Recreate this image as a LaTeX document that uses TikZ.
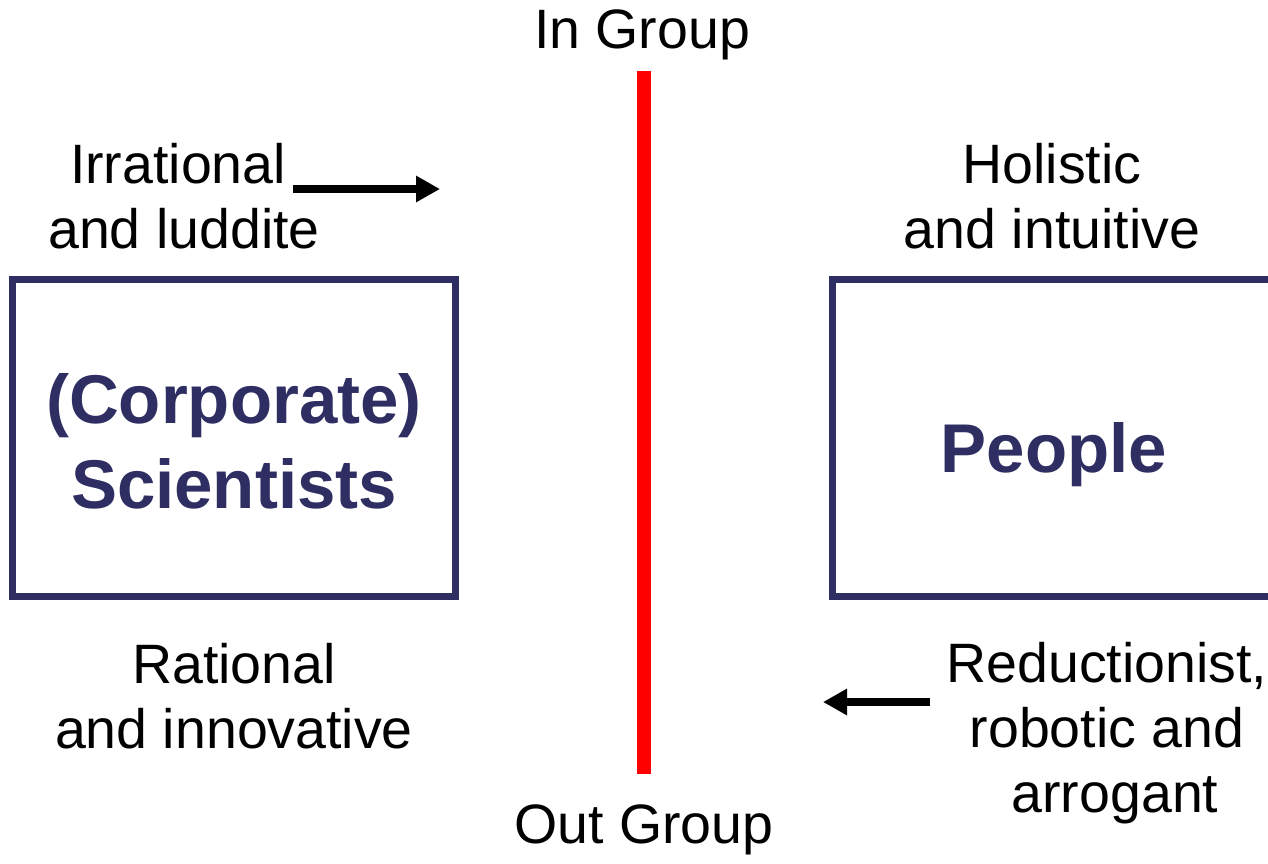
\documentclass[tikz,border=0pt]{standalone}
\usepackage{fontspec}
\setmainfont{Liberation Sans}
\usetikzlibrary{arrows.meta}
\definecolor{navy}{RGB}{46,46,98}
\definecolor{pure}{RGB}{255,0,0}
\tikzset{
  lbl/.style={font=\fontsize{55.5}{65}\selectfont, align=center, inner sep=0pt, text=black, anchor=base},
  boxnode/.style={draw=navy, line width=7pt, minimum width=443pt, minimum height=317pt, inner sep=0pt},
  boxtext/.style={text=navy, font=\fontsize{69}{85}\selectfont\bfseries, align=center, inner sep=0pt, anchor=base},
  arr/.style={line width=8pt, -{Triangle[length=24pt,width=25pt]}},
  divider/.style={draw=pure, line width=14pt}
}
\begin{document}
\begin{tikzpicture}[x=1pt,y=-1pt]
\useasboundingbox (0,0) rectangle (1268,863);
% boxes
\node[boxnode] (sci) at (234,438) {};
\node[boxnode] (ppl) at (1054,438) {};
\node[boxtext] (scit) at (sci.center |- 0,508) {(Corporate)\\Scientists};
\node[boxtext] (pplt) at (ppl.center |- 0,472) {People};
% divider
\coordinate (top) at (644,71);
\coordinate (bot) at (644,774);
\draw[divider] (top) -- (bot);
% labels
\node[lbl] (in) at (642,48) {In Group};
\node[lbl] (out) at (644,843) {Out Group};
\node[lbl] (irr) at (184,248) {Irrational\hspace*{12pt}\\and luddite};
\node[lbl] (hol) at (1052,248) {Holistic\\and intuitive};
\node[lbl] (rat) at (234,748) {Rational\\and innovative};
\node[lbl] (red) at (1107,812) {Reductionist,\\robotic and\\\hspace*{16pt}arrogant};
% arrows
\coordinate (a1s) at (293,189);
\coordinate (a1e) at (440,189);
\draw[arr] (a1s) -- (a1e);
\coordinate (a2s) at (930,702);
\coordinate (a2e) at (823,702);
\draw[arr] (a2s) -- (a2e);
\end{tikzpicture}
\end{document}
